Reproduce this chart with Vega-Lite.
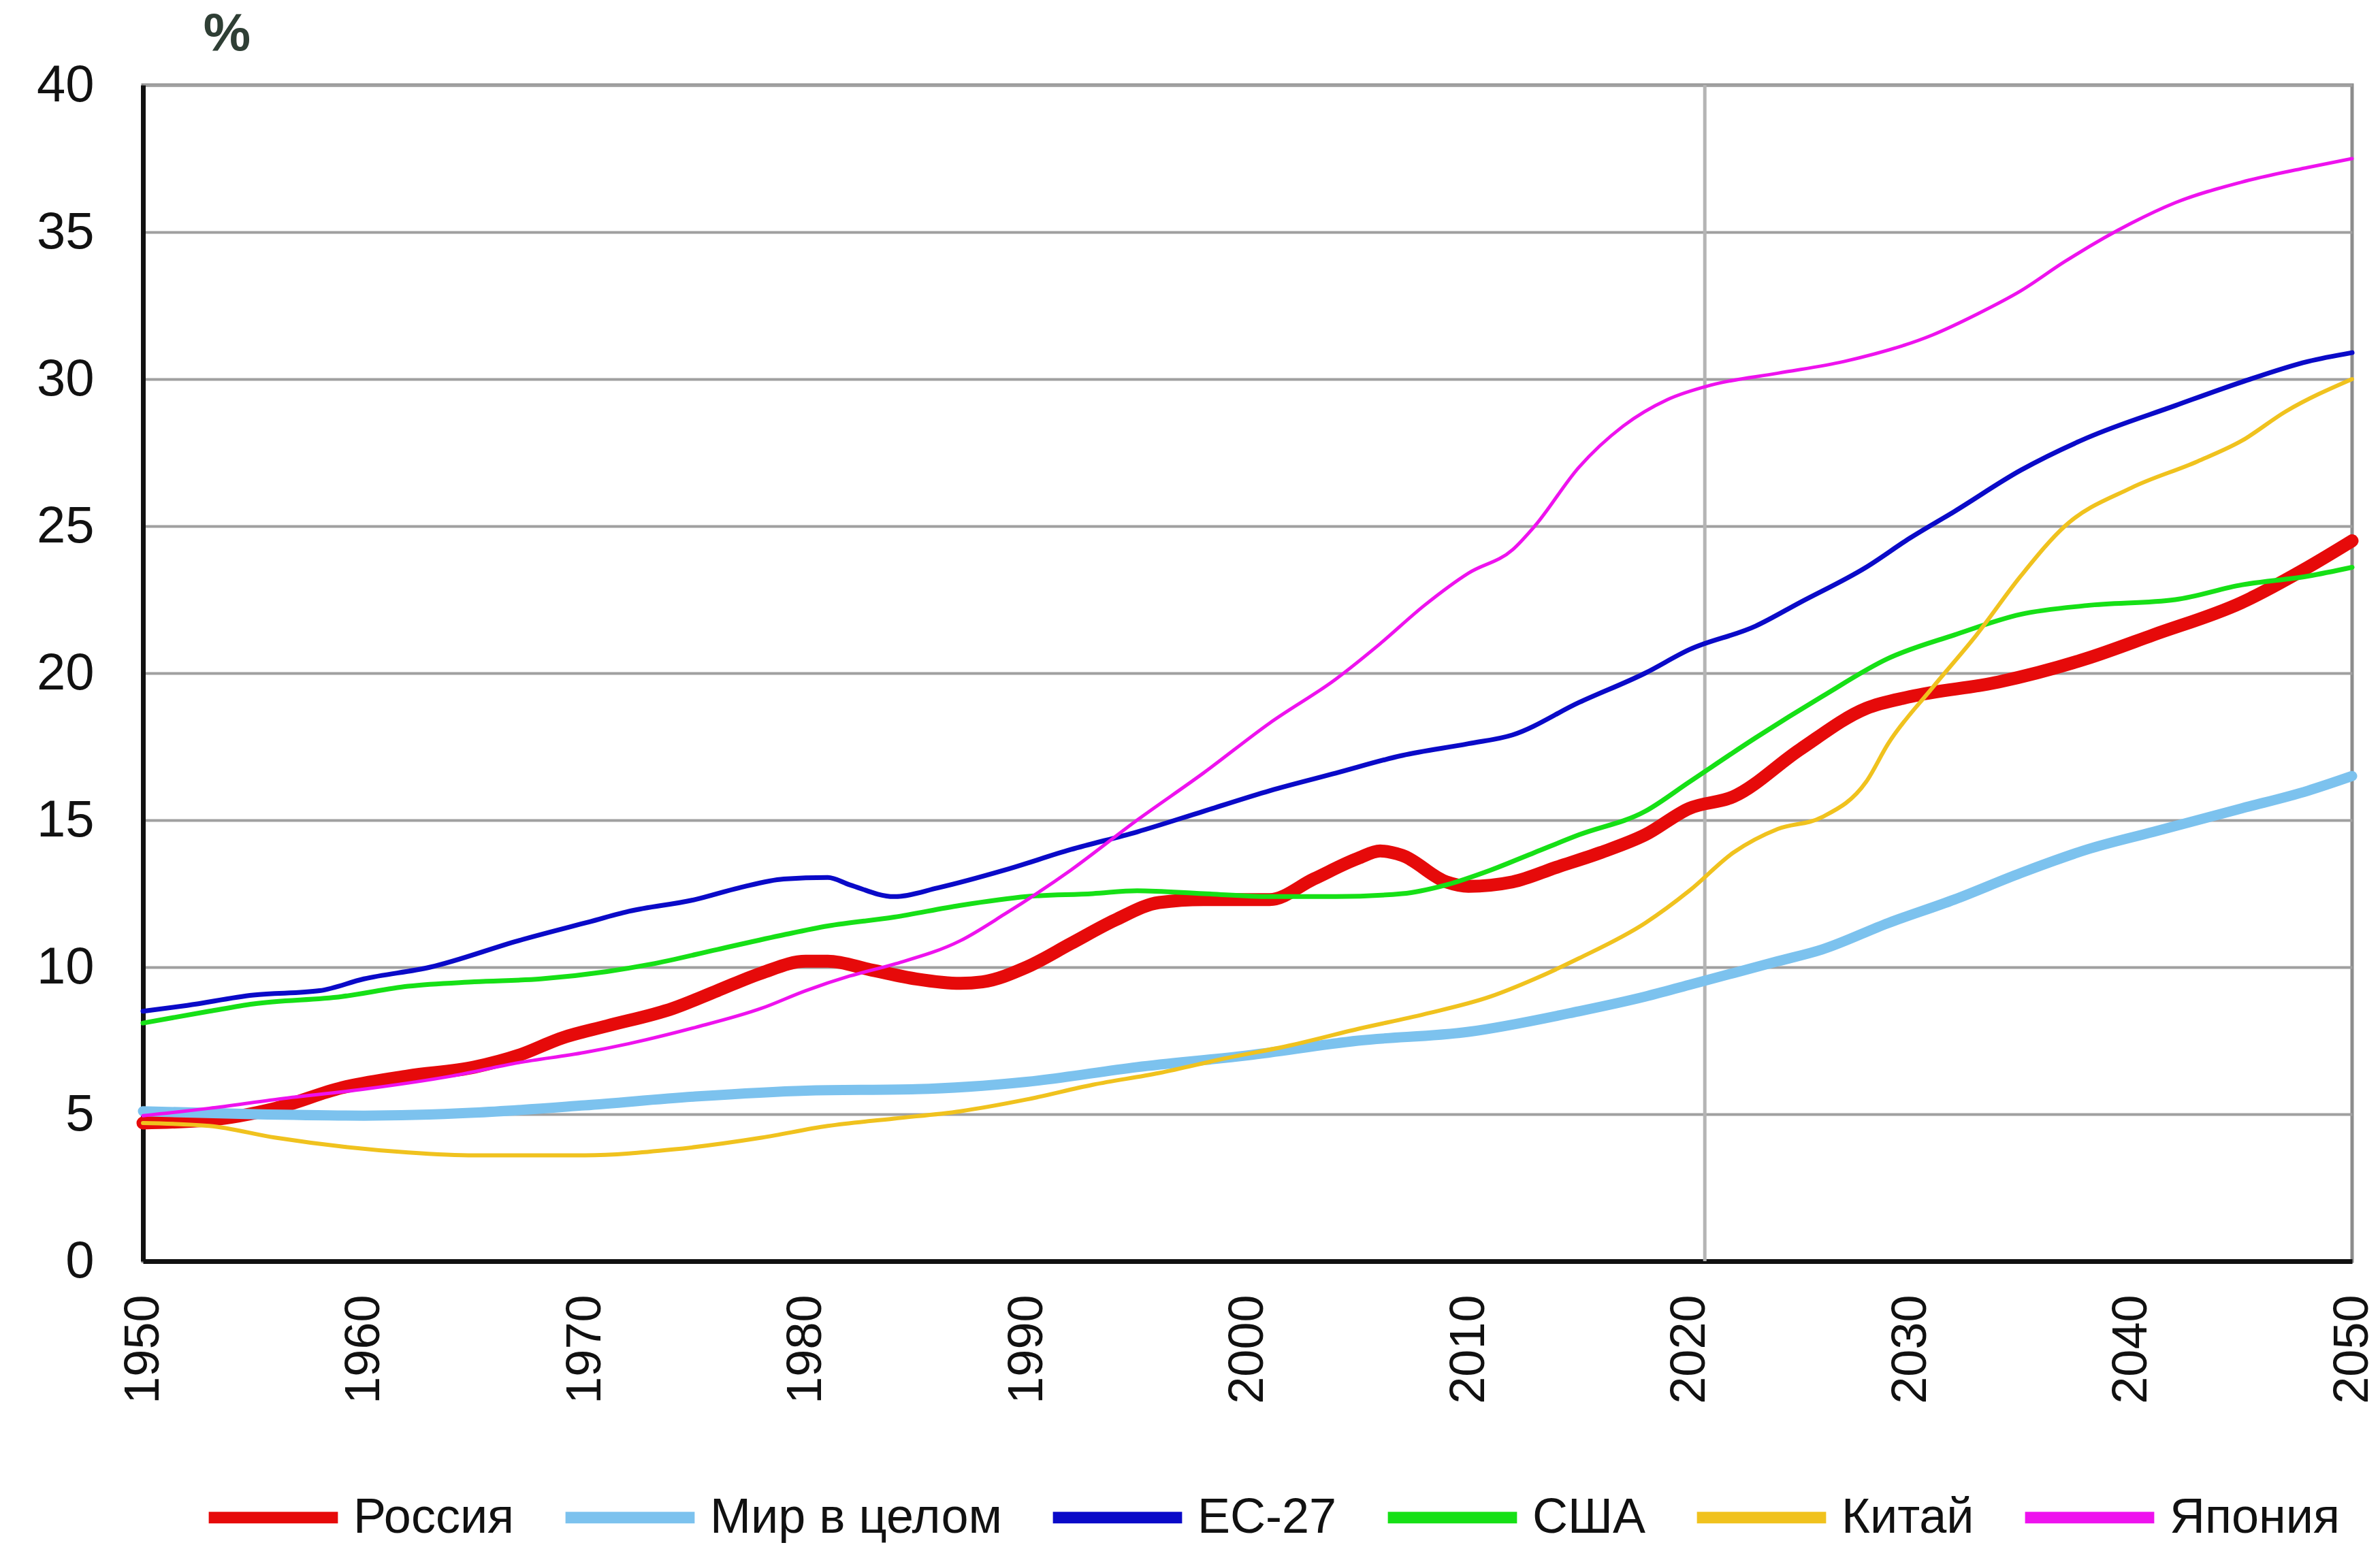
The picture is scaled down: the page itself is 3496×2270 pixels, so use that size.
{
  "$schema": "https://vega.github.io/schema/vega-lite/v6.json",
  "width": 3245,
  "height": 1728,
  "autosize": {"type": "none"},
  "padding": {"left": 210, "top": 125, "right": 41, "bottom": 417},
  "background": "white",
  "config": {
    "font": "Liberation Sans",
    "view": {"stroke": "#8c8c8c", "strokeWidth": 5}
  },
  "datasets": {
    "marker": [{"year": 2020.7}],
    "main": [
      {"series": "Россия", "year": 1950, "value": 4.7},
      {"series": "Россия", "year": 1953, "value": 4.8},
      {"series": "Россия", "year": 1956, "value": 5.2},
      {"series": "Россия", "year": 1959, "value": 5.9},
      {"series": "Россия", "year": 1962, "value": 6.3},
      {"series": "Россия", "year": 1965, "value": 6.6},
      {"series": "Россия", "year": 1967, "value": 7.0},
      {"series": "Россия", "year": 1969, "value": 7.6},
      {"series": "Россия", "year": 1971, "value": 8.0},
      {"series": "Россия", "year": 1974, "value": 8.6},
      {"series": "Россия", "year": 1976, "value": 9.2},
      {"series": "Россия", "year": 1978, "value": 9.8},
      {"series": "Россия", "year": 1980, "value": 10.2},
      {"series": "Россия", "year": 1981, "value": 10.2},
      {"series": "Россия", "year": 1983, "value": 9.9},
      {"series": "Россия", "year": 1985, "value": 9.6},
      {"series": "Россия", "year": 1987, "value": 9.45},
      {"series": "Россия", "year": 1988, "value": 9.5},
      {"series": "Россия", "year": 1990, "value": 10.0},
      {"series": "Россия", "year": 1992, "value": 10.8},
      {"series": "Россия", "year": 1994, "value": 11.6},
      {"series": "Россия", "year": 1996, "value": 12.2},
      {"series": "Россия", "year": 1998, "value": 12.3},
      {"series": "Россия", "year": 2001, "value": 12.3},
      {"series": "Россия", "year": 2003, "value": 13.0},
      {"series": "Россия", "year": 2005, "value": 13.7},
      {"series": "Россия", "year": 2006, "value": 13.95},
      {"series": "Россия", "year": 2007, "value": 13.8},
      {"series": "Россия", "year": 2009, "value": 12.9},
      {"series": "Россия", "year": 2010, "value": 12.75},
      {"series": "Россия", "year": 2012, "value": 12.9},
      {"series": "Россия", "year": 2014, "value": 13.4},
      {"series": "Россия", "year": 2016, "value": 13.9},
      {"series": "Россия", "year": 2018, "value": 14.5},
      {"series": "Россия", "year": 2020, "value": 15.4},
      {"series": "Россия", "year": 2022, "value": 15.8},
      {"series": "Россия", "year": 2025, "value": 17.4},
      {"series": "Россия", "year": 2028, "value": 18.8},
      {"series": "Россия", "year": 2030, "value": 19.2},
      {"series": "Россия", "year": 2034, "value": 19.7},
      {"series": "Россия", "year": 2038, "value": 20.5},
      {"series": "Россия", "year": 2041, "value": 21.3},
      {"series": "Россия", "year": 2045, "value": 22.4},
      {"series": "Россия", "year": 2048, "value": 23.6},
      {"series": "Россия", "year": 2050, "value": 24.5},

      {"series": "Мир в целом", "year": 1950, "value": 5.1},
      {"series": "Мир в целом", "year": 1955, "value": 5.0},
      {"series": "Мир в целом", "year": 1960, "value": 4.95},
      {"series": "Мир в целом", "year": 1965, "value": 5.05},
      {"series": "Мир в целом", "year": 1970, "value": 5.3},
      {"series": "Мир в целом", "year": 1975, "value": 5.6},
      {"series": "Мир в целом", "year": 1980, "value": 5.8},
      {"series": "Мир в целом", "year": 1985, "value": 5.85},
      {"series": "Мир в целом", "year": 1990, "value": 6.1},
      {"series": "Мир в целом", "year": 1995, "value": 6.6},
      {"series": "Мир в целом", "year": 2000, "value": 7.0},
      {"series": "Мир в целом", "year": 2005, "value": 7.5},
      {"series": "Мир в целом", "year": 2010, "value": 7.8},
      {"series": "Мир в целом", "year": 2015, "value": 8.5},
      {"series": "Мир в целом", "year": 2018, "value": 9.0},
      {"series": "Мир в целом", "year": 2020, "value": 9.4},
      {"series": "Мир в целом", "year": 2024, "value": 10.2},
      {"series": "Мир в целом", "year": 2026, "value": 10.6},
      {"series": "Мир в целом", "year": 2029, "value": 11.5},
      {"series": "Мир в целом", "year": 2032, "value": 12.3},
      {"series": "Мир в целом", "year": 2035, "value": 13.2},
      {"series": "Мир в целом", "year": 2038, "value": 14.0},
      {"series": "Мир в целом", "year": 2041, "value": 14.6},
      {"series": "Мир в целом", "year": 2045, "value": 15.4},
      {"series": "Мир в целом", "year": 2048, "value": 16.0},
      {"series": "Мир в целом", "year": 2050, "value": 16.5},

      {"series": "ЕС-27", "year": 1950, "value": 8.5},
      {"series": "ЕС-27", "year": 1952, "value": 8.7},
      {"series": "ЕС-27", "year": 1955, "value": 9.05},
      {"series": "ЕС-27", "year": 1958, "value": 9.2},
      {"series": "ЕС-27", "year": 1960, "value": 9.6},
      {"series": "ЕС-27", "year": 1963, "value": 10.0},
      {"series": "ЕС-27", "year": 1967, "value": 10.9},
      {"series": "ЕС-27", "year": 1970, "value": 11.5},
      {"series": "ЕС-27", "year": 1972, "value": 11.9},
      {"series": "ЕС-27", "year": 1975, "value": 12.3},
      {"series": "ЕС-27", "year": 1977, "value": 12.7},
      {"series": "ЕС-27", "year": 1979, "value": 13.0},
      {"series": "ЕС-27", "year": 1981, "value": 13.05},
      {"series": "ЕС-27", "year": 1982, "value": 12.8},
      {"series": "ЕС-27", "year": 1984, "value": 12.4},
      {"series": "ЕС-27", "year": 1986, "value": 12.7},
      {"series": "ЕС-27", "year": 1989, "value": 13.3},
      {"series": "ЕС-27", "year": 1992, "value": 14.0},
      {"series": "ЕС-27", "year": 1995, "value": 14.6},
      {"series": "ЕС-27", "year": 1998, "value": 15.3},
      {"series": "ЕС-27", "year": 2001, "value": 16.0},
      {"series": "ЕС-27", "year": 2004, "value": 16.6},
      {"series": "ЕС-27", "year": 2007, "value": 17.2},
      {"series": "ЕС-27", "year": 2010, "value": 17.6},
      {"series": "ЕС-27", "year": 2012, "value": 17.9},
      {"series": "ЕС-27", "year": 2015, "value": 19.0},
      {"series": "ЕС-27", "year": 2018, "value": 20.0},
      {"series": "ЕС-27", "year": 2020, "value": 20.8},
      {"series": "ЕС-27", "year": 2023, "value": 21.6},
      {"series": "ЕС-27", "year": 2025, "value": 22.4},
      {"series": "ЕС-27", "year": 2028, "value": 23.6},
      {"series": "ЕС-27", "year": 2030, "value": 24.6},
      {"series": "ЕС-27", "year": 2032, "value": 25.5},
      {"series": "ЕС-27", "year": 2035, "value": 26.9},
      {"series": "ЕС-27", "year": 2038, "value": 28.0},
      {"series": "ЕС-27", "year": 2042, "value": 29.1},
      {"series": "ЕС-27", "year": 2045, "value": 29.9},
      {"series": "ЕС-27", "year": 2048, "value": 30.6},
      {"series": "ЕС-27", "year": 2050, "value": 30.9},

      {"series": "США", "year": 1950, "value": 8.1},
      {"series": "США", "year": 1953, "value": 8.5},
      {"series": "США", "year": 1955, "value": 8.75},
      {"series": "США", "year": 1959, "value": 9.0},
      {"series": "США", "year": 1962, "value": 9.35},
      {"series": "США", "year": 1965, "value": 9.5},
      {"series": "США", "year": 1968, "value": 9.6},
      {"series": "США", "year": 1971, "value": 9.85},
      {"series": "США", "year": 1973, "value": 10.1},
      {"series": "США", "year": 1976, "value": 10.6},
      {"series": "США", "year": 1979, "value": 11.1},
      {"series": "США", "year": 1981, "value": 11.4},
      {"series": "США", "year": 1984, "value": 11.7},
      {"series": "США", "year": 1987, "value": 12.1},
      {"series": "США", "year": 1990, "value": 12.4},
      {"series": "США", "year": 1993, "value": 12.5},
      {"series": "США", "year": 1995, "value": 12.6},
      {"series": "США", "year": 1998, "value": 12.5},
      {"series": "США", "year": 2001, "value": 12.4},
      {"series": "США", "year": 2004, "value": 12.4},
      {"series": "США", "year": 2007, "value": 12.5},
      {"series": "США", "year": 2009, "value": 12.8},
      {"series": "США", "year": 2011, "value": 13.3},
      {"series": "США", "year": 2013, "value": 13.9},
      {"series": "США", "year": 2015, "value": 14.5},
      {"series": "США", "year": 2018, "value": 15.3},
      {"series": "США", "year": 2020, "value": 16.3},
      {"series": "США", "year": 2023, "value": 17.8},
      {"series": "США", "year": 2026, "value": 19.2},
      {"series": "США", "year": 2029, "value": 20.5},
      {"series": "США", "year": 2032, "value": 21.3},
      {"series": "США", "year": 2035, "value": 22.0},
      {"series": "США", "year": 2038, "value": 22.3},
      {"series": "США", "year": 2042, "value": 22.5},
      {"series": "США", "year": 2045, "value": 23.0},
      {"series": "США", "year": 2048, "value": 23.3},
      {"series": "США", "year": 2050, "value": 23.6},

      {"series": "Китай", "year": 1950, "value": 4.7},
      {"series": "Китай", "year": 1953, "value": 4.6},
      {"series": "Китай", "year": 1956, "value": 4.2},
      {"series": "Китай", "year": 1959, "value": 3.9},
      {"series": "Китай", "year": 1962, "value": 3.7},
      {"series": "Китай", "year": 1965, "value": 3.6},
      {"series": "Китай", "year": 1970, "value": 3.6},
      {"series": "Китай", "year": 1974, "value": 3.8},
      {"series": "Китай", "year": 1978, "value": 4.2},
      {"series": "Китай", "year": 1981, "value": 4.6},
      {"series": "Китай", "year": 1984, "value": 4.85},
      {"series": "Китай", "year": 1987, "value": 5.1},
      {"series": "Китай", "year": 1990, "value": 5.5},
      {"series": "Китай", "year": 1993, "value": 6.0},
      {"series": "Китай", "year": 1996, "value": 6.4},
      {"series": "Китай", "year": 1999, "value": 6.9},
      {"series": "Китай", "year": 2002, "value": 7.35},
      {"series": "Китай", "year": 2005, "value": 7.9},
      {"series": "Китай", "year": 2008, "value": 8.4},
      {"series": "Китай", "year": 2011, "value": 9.0},
      {"series": "Китай", "year": 2013, "value": 9.6},
      {"series": "Китай", "year": 2015, "value": 10.3},
      {"series": "Китай", "year": 2018, "value": 11.5},
      {"series": "Китай", "year": 2020, "value": 12.6},
      {"series": "Китай", "year": 2022, "value": 13.9},
      {"series": "Китай", "year": 2024, "value": 14.7},
      {"series": "Китай", "year": 2026, "value": 15.1},
      {"series": "Китай", "year": 2028, "value": 16.3},
      {"series": "Китай", "year": 2029, "value": 17.6},
      {"series": "Китай", "year": 2031, "value": 19.5},
      {"series": "Китай", "year": 2033, "value": 21.3},
      {"series": "Китай", "year": 2035, "value": 23.3},
      {"series": "Китай", "year": 2037, "value": 25.0},
      {"series": "Китай", "year": 2040, "value": 26.3},
      {"series": "Китай", "year": 2043, "value": 27.2},
      {"series": "Китай", "year": 2045, "value": 27.9},
      {"series": "Китай", "year": 2047, "value": 28.9},
      {"series": "Китай", "year": 2050, "value": 30.0},

      {"series": "Япония", "year": 1950, "value": 4.95},
      {"series": "Япония", "year": 1953, "value": 5.2},
      {"series": "Япония", "year": 1956, "value": 5.5},
      {"series": "Япония", "year": 1960, "value": 5.85},
      {"series": "Япония", "year": 1964, "value": 6.3},
      {"series": "Япония", "year": 1967, "value": 6.75},
      {"series": "Япония", "year": 1970, "value": 7.1},
      {"series": "Япония", "year": 1972, "value": 7.4},
      {"series": "Япония", "year": 1975, "value": 7.95},
      {"series": "Япония", "year": 1978, "value": 8.6},
      {"series": "Япония", "year": 1980, "value": 9.2},
      {"series": "Япония", "year": 1982, "value": 9.7},
      {"series": "Япония", "year": 1984, "value": 10.1},
      {"series": "Япония", "year": 1987, "value": 10.9},
      {"series": "Япония", "year": 1989, "value": 11.8},
      {"series": "Япония", "year": 1992, "value": 13.3},
      {"series": "Япония", "year": 1995, "value": 15.0},
      {"series": "Япония", "year": 1998, "value": 16.6},
      {"series": "Япония", "year": 2001, "value": 18.3},
      {"series": "Япония", "year": 2004, "value": 19.8},
      {"series": "Япония", "year": 2006, "value": 21.0},
      {"series": "Япония", "year": 2008, "value": 22.3},
      {"series": "Япония", "year": 2010, "value": 23.4},
      {"series": "Япония", "year": 2012, "value": 24.2},
      {"series": "Япония", "year": 2013, "value": 25.0},
      {"series": "Япония", "year": 2015, "value": 27.0},
      {"series": "Япония", "year": 2017, "value": 28.4},
      {"series": "Япония", "year": 2019, "value": 29.3},
      {"series": "Япония", "year": 2021, "value": 29.8},
      {"series": "Япония", "year": 2024, "value": 30.2},
      {"series": "Япония", "year": 2027, "value": 30.6},
      {"series": "Япония", "year": 2031, "value": 31.5},
      {"series": "Япония", "year": 2033, "value": 32.2},
      {"series": "Япония", "year": 2035, "value": 33.0},
      {"series": "Япония", "year": 2037, "value": 34.0},
      {"series": "Япония", "year": 2040, "value": 35.3},
      {"series": "Япония", "year": 2042, "value": 36.0},
      {"series": "Япония", "year": 2045, "value": 36.7},
      {"series": "Япония", "year": 2048, "value": 37.2},
      {"series": "Япония", "year": 2050, "value": 37.5}
    ]
  },
  "layer": [
    {
      "data": {"name": "marker"},
      "mark": {"type": "rule", "color": "#b4b4b4", "strokeWidth": 5},
      "encoding": {
        "x": {"field": "year", "type": "quantitative", "scale": {"domain": [1950, 2050], "nice": false, "zero": false}}
      }
    },
    {
      "data": {"name": "main"},
      "encoding": {
        "x": {
          "field": "year", "type": "quantitative",
          "scale": {"domain": [1950, 2050], "nice": false, "zero": false},
          "axis": {
            "values": [1950, 1960, 1970, 1980, 1990, 2000, 2010, 2020, 2030, 2040, 2050],
            "format": "d", "labelAngle": 270, "labelFontSize": 72, "labelPadding": 49,
            "labelFlush": false, "labelOverlap": false, "labelColor": "#111111",
            "ticks": false, "grid": false, "domainColor": "#111111", "domainWidth": 7, "title": null
          }
        },
        "y": {
          "field": "value", "type": "quantitative",
          "scale": {"domain": [0, 40], "nice": false},
          "axis": {
            "values": [0, 5, 10, 15, 20, 25, 30, 35, 40],
            "labelFontSize": 76, "labelPadding": 72, "labelColor": "#111111", "labelOverlap": false,
            "ticks": false, "grid": true, "gridColor": "#a0a0a0", "gridWidth": 4,
            "domainColor": "#111111", "domainWidth": 7,
            "title": "%", "titleAngle": 0, "titleX": 123, "titleY": -75, "titleAlign": "center",
            "titleBaseline": "middle", "titleFontSize": 78, "titleFontWeight": "bold", "titleColor": "#2f3f35"
          }
        },
        "color": {
          "field": "series", "type": "nominal",
          "scale": {
            "domain": ["Россия", "Мир в целом", "ЕС-27", "США", "Китай", "Япония"],
            "range": ["#e60a0a", "#7cc2ee", "#0a0ac8", "#16e016", "#f0c21e", "#ee12ee"]
          },
          "legend": {
            "orient": "none", "legendX": 88, "legendY": 2001, "direction": "horizontal",
            "title": null, "symbolType": "stroke", "symbolSize": 36000, "symbolStrokeWidth": 17,
            "labelFontSize": 72, "labelOffset": 14, "columnPadding": 40, "labelColor": "#111111",
            "labelLimit": 0
          }
        }
      },
      "layer": [
        {
          "transform": [{"filter": {"field": "series", "equal": "Россия"}}],
          "mark": {"type": "line", "interpolate": "monotone", "strokeCap": "round", "strokeJoin": "round", "strokeWidth": 19}
        },
        {
          "transform": [{"filter": {"field": "series", "equal": "Мир в целом"}}],
          "mark": {"type": "line", "interpolate": "monotone", "strokeCap": "round", "strokeJoin": "round", "strokeWidth": 15}
        },
        {
          "transform": [{"filter": {"field": "series", "equal": "ЕС-27"}}],
          "mark": {"type": "line", "interpolate": "monotone", "strokeCap": "round", "strokeJoin": "round", "strokeWidth": 7}
        },
        {
          "transform": [{"filter": {"field": "series", "equal": "США"}}],
          "mark": {"type": "line", "interpolate": "monotone", "strokeCap": "round", "strokeJoin": "round", "strokeWidth": 7}
        },
        {
          "transform": [{"filter": {"field": "series", "equal": "Китай"}}],
          "mark": {"type": "line", "interpolate": "monotone", "strokeCap": "round", "strokeJoin": "round", "strokeWidth": 6}
        },
        {
          "transform": [{"filter": {"field": "series", "equal": "Япония"}}],
          "mark": {"type": "line", "interpolate": "monotone", "strokeCap": "round", "strokeJoin": "round", "strokeWidth": 5}
        }
      ]
    }
  ]
}
